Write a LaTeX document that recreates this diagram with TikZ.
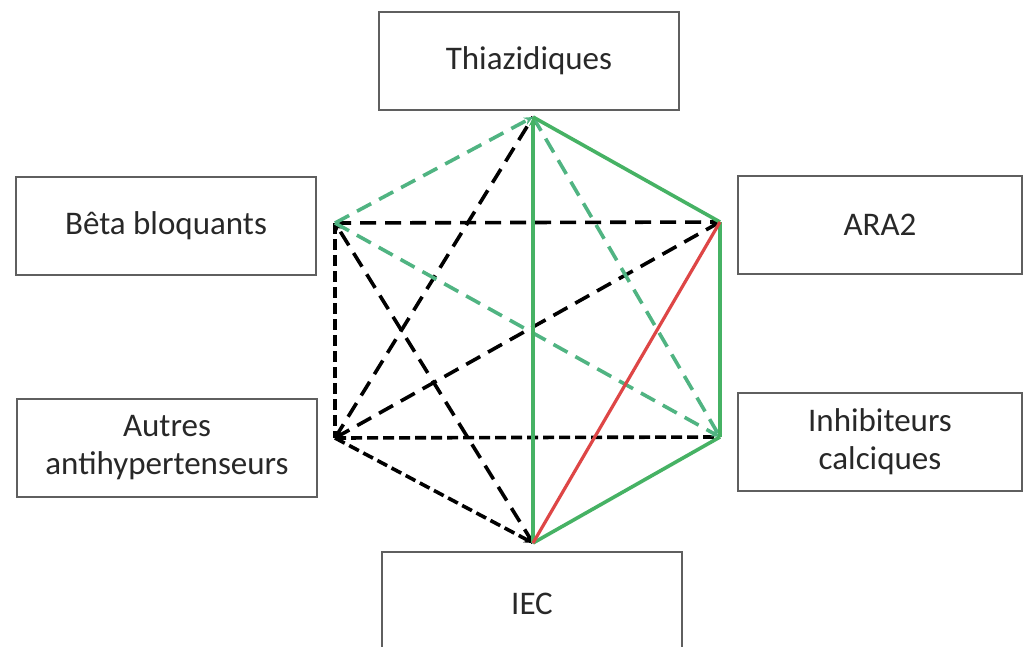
\documentclass[tikz,border=0pt]{standalone}
\usepackage{fontspec}
\setmainfont{Carlito}
\usetikzlibrary{arrows.meta}
\definecolor{boxgray}{RGB}{95,95,95}
\definecolor{txtgray}{RGB}{40,40,40}
\definecolor{lgreen}{RGB}{70,178,100}
\definecolor{dgreen}{RGB}{80,180,130}
\definecolor{lred}{RGB}{222,70,70}
\begin{document}
\begin{tikzpicture}[x=1pt,y=-1pt,
  box/.style={draw=boxgray, line width=2pt, fill=white, inner sep=0pt,
    align=center, text=txtgray, font=\fontsize{33}{38}\selectfont,
    minimum width=300pt, minimum height=98pt},
  sidebox/.style={box, minimum width=284pt},
  edge/.style={line width=3.6pt},
  blackdash/.style={edge, black, dash pattern=on 16pt off 9pt},
  blackdot/.style={edge, black, dash pattern=on 11pt off 5pt},
  greendash/.style={edge, dgreen, dash pattern=on 16pt off 9pt},
  greensolid/.style={edge, lgreen},
  redsolid/.style={edge, lred, line width=3.2pt},
  tip/.style={-{Stealth[length=9pt,width=8pt]}}
]
\useasboundingbox (0,0) rectangle (1027,647);
\clip (0,0) rectangle (1027,647);
\fill[white] (0,0) rectangle (1027,647);

% boxes
\node[box] (thia) at (529,61) {Thiazidiques};
\node[box] (beta) at (166,226) {Bêta bloquants};
\node[sidebox] (ara) at (880,225) {ARA2};
\node[box] (autres) at (167,448) {Autres\\antihypertenseurs};
\node[sidebox] (inhib) at (880,442) {Inhibiteurs\\calciques};
\node[box, minimum height=104pt] (iec) at (532,604) {IEC};

% vertices
\coordinate (T) at (533,117);
\coordinate (B) at (335,223);
\coordinate (R) at (720,222);
\coordinate (A) at (335,438);
\coordinate (C) at (720,437);
\coordinate (E) at (533,543);

% black dashed edges
\draw[blackdash] (A) -- (T);
\draw[blackdash, tip] (B) -- (R);
\draw[blackdash, tip] (E) -- (B);
\draw[blackdash, tip] (R) -- (A);
\draw[blackdot] (B) -- (A);
\draw[blackdot] (A) -- (C);
\draw[blackdot, tip] (A) -- (E);

% green dashed edges
\draw[greendash, tip] (B) -- (T);
\draw[greendash] (T) -- (C);
\draw[greendash, tip] (B) -- (C);

% green solid edges
\draw[greensolid, tip] (E) -- (T);
\draw[greensolid] (T) -- (R);
\draw[greensolid] (R) -- (C);
\draw[greensolid] (C) -- (E);

% red edge
\draw[redsolid] (R) -- (E);
\end{tikzpicture}
\end{document}
